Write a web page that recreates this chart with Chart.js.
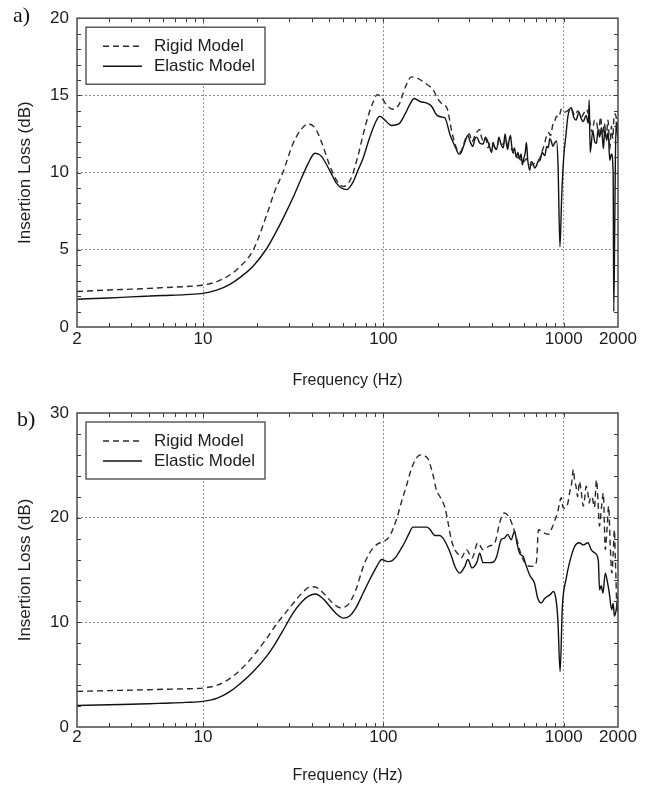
<!DOCTYPE html>
<html><head><meta charset="utf-8">
<script src="https://cdn.jsdelivr.net/npm/chart.js@4/dist/chart.umd.min.js"></script>
<style>
body{margin:0;background:#fff;width:650px;height:787px;position:relative;overflow:hidden}
canvas{position:absolute;left:0}
#c1{top:0}
#c2{top:390px}
.lab{position:absolute;font-family:"Liberation Serif","Times New Roman",serif;font-size:22px;line-height:22px;color:#111}
</style></head><body>
<canvas id="c1" width="650" height="390"></canvas>
<canvas id="c2" width="650" height="397"></canvas>
<div class="lab" style="left:13px;top:4px">a)</div>
<div class="lab" style="left:17px;top:408px">b)</div>
<script>
// ---------- data ----------
const xTicks = [2, 10, 100, 1000, 2000];
const seriesNames = ["Rigid Model", "Elastic Model"];
const xTitle = "Frequency (Hz)";
const yTitle = "Insertion Loss (dB)";

// panel a)
const aRigidF = [2,3,4,5,6,8,10,12,14,16,19,22.6,25,27.7,31.6,35,38.3,42,46,50.6,55,59.9,66,72,77,83,88,92.3,97,104,113,122,132,143,155,170,189,200,214,225,
  240,254,262,270,288,300,310,322,334,342,350,360,370,380,390,400,412,425,437,450,462,475,487,500,515,530,550,570,585,600,620,640,670,700,735,760,780,800,822,845,870,890,912,
  940,970,1000,1050,1100,1150,1200,1250,1300,1330,1370,1400,1440,1480,1520,1560,1600,1640,1680,1720,1760,1800,1840,1870,1900,1930,1960,2000];
const aRigidV = [2.3,2.4,2.45,2.5,2.55,2.62,2.72,2.95,3.35,3.9,5.0,7.3,8.8,10.0,11.9,12.8,13.15,12.85,11.8,10.4,9.5,9.1,9.6,11.0,12.4,13.8,14.6,15.05,14.9,14.4,14.1,14.4,15.5,16.2,16.1,15.8,15.35,14.8,14.4,14.2,
  12.6,11.6,11.3,11.4,12.3,12.5,12.0,12.4,12.7,12.8,12.3,12.0,12.2,11.6,11.9,12.0,11.7,11.6,12.1,12.0,11.8,12.2,11.8,11.6,11.5,11.2,11.0,10.9,10.7,10.7,10.9,10.6,10.5,10.7,10.9,11.4,11.8,12.3,12.6,12.4,13.1,13.3,13.65,
  13.6,14.1,13.9,14.0,14.2,13.7,14.0,13.6,13.9,14.1,13.8,13.2,12.6,13.4,13.3,12.5,13.6,12.4,13.2,12.3,13.4,11.5,13.0,12.2,13.6,13.8,13.5,12.8];
const aElasticF = [2,3,4,5,6,8,10,12,14,16,19,22.6,25,27.7,31.6,35,38.3,41.7,45,50.6,55,62.5,68,72,77,83,90,95.5,102,111,118,123,132,140,148,160,174,185,197,210,219,235,
  254,262,270,282,294,303,313,322,330,343,357,368,380,390,398,406,415,425,437,450,462,473,481,489,498,507,515,522,533,545,557,569,580,590,600,612,621,632,648,660,675,690,703,720,740,760,786,805,820,838,853,870,889,912,
  930,953,975,1000,1030,1055,1100,1135,1170,1215,1250,1284,1330,1370,1385,1402,1450,1485,1520,1550,1580,1620,1660,1690,1730,1765,1800,1840,1880,1895,1920,1950,1975,2000];
const aElasticV = [1.8,1.88,1.95,2.0,2.04,2.1,2.18,2.4,2.75,3.2,3.95,5.1,6.0,7.0,8.4,9.6,10.6,11.25,11.1,10.1,9.3,8.9,9.4,10.1,10.9,12.1,13.2,13.65,13.4,13.05,13.1,13.2,13.8,14.4,14.8,14.6,14.5,14.3,13.75,13.6,13.55,12.4,
  11.5,11.2,11.3,11.9,12.4,12.0,11.7,12.2,12.3,11.9,11.85,12.3,12.0,11.6,11.3,11.95,11.6,11.5,12.3,11.8,11.6,12.5,11.9,11.5,12.1,12.4,11.7,11.3,11.6,11.0,11.3,10.9,11.2,10.5,10.9,11.3,11.95,10.8,10.15,10.7,10.6,10.3,10.4,10.7,10.8,11.3,11.1,11.7,11.6,12.2,12.05,11.7,11.9,12.05,
  10.5,5.2,8.5,11.0,12.5,13.65,14.2,13.6,13.4,13.9,13.5,13.3,13.7,13.2,14.7,11.3,12.7,12.0,11.9,12.8,12.3,12.9,11.55,12.8,12.1,12.6,10.8,11.2,9.9,1.0,7.0,13.3,12.8,12.0];

// panel b)
const bRigidF = [2,3,4,5,6,8,10,12,14,16,19,22.6,25,27.7,31.6,35,39.5,43,47,52,57.4,63,70,77.3,83,87.7,93,99.6,108,118,126,134,142,149,156,163,170,177,189,197,206,219,228,238,250,260,270,289,310,334,357,388,415,441,455,469,485,500,534,569,595,621,671,706,725,750,786,822,860,889,928,950,970,990,1011,1055,1077,1105,1131,1150,1170,1195,1222,1250,1284,1310,1330,1360,1385,1410,1440,1480,1520,1550,1580,1620,1660,1680,1700,1740,1775,1810,1850,1880,1910,1930,1950,1975,2000];
const bRigidV = [3.4,3.48,3.52,3.56,3.6,3.65,3.72,4.0,4.6,5.4,6.8,8.5,9.6,10.6,11.8,12.7,13.4,13.3,12.7,11.9,11.4,11.6,13.0,15.3,16.5,17.1,17.5,17.7,18.2,19.8,21.5,23.0,24.5,25.4,25.9,26.0,25.9,25.6,24.0,22.6,22.0,21.0,19.6,17.9,16.9,16.5,16.15,16.95,16.15,17.6,16.95,17.3,17.6,19.5,20.2,20.45,20.3,20.0,18.7,16.95,16.0,15.5,15.35,15.8,18.85,18.7,18.5,18.4,19.0,19.65,20.6,21.5,21.9,21.0,20.9,21.4,22.35,23.2,24.6,23.5,23.0,22.0,23.45,22.5,21.1,22.0,23.0,22.4,21.4,22.0,21.9,21.0,23.6,21.5,19.2,21.0,22.35,19.5,16.95,19.0,21.1,17.5,14.7,16.5,18.85,16.5,14.0,11.0,12.5];
const bElasticF = [2,3,4,5,6,8,10,12,14,16,19,22.6,25,27.7,31.6,35,38.5,42,46,50,55,60,65,70,77.3,83,87.7,93,97.8,106,112,118,125,131,138,146,160,174,181,193,205,214,229,240,249,265,283,294,310,331,342,357,388,410,425,450,469,489,511,534,550,569,595,621,648,688,718,750,786,841,876,906,928,955,983,1030,1077,1150,1222,1284,1361,1425,1494,1556,1580,1615,1650,1700,1750,1790,1845,1880,1910,1950,1975,2000];
const bElasticV = [2.05,2.12,2.18,2.22,2.27,2.35,2.45,2.75,3.35,4.1,5.3,6.8,7.9,9.2,10.9,11.9,12.5,12.7,12.3,11.6,10.8,10.4,10.6,11.3,12.8,13.9,14.7,15.5,16.0,15.8,15.9,16.3,17.0,17.6,18.4,19.1,19.1,19.1,18.9,18.3,18.3,18.05,17.1,16.2,15.35,14.7,15.35,16.0,15.2,15.8,16.6,15.7,15.7,15.8,16.3,17.9,18.05,18.4,17.9,18.7,17.6,16.6,16.3,15.35,14.5,13.75,12.3,11.85,12.3,12.65,12.95,12.2,10.25,5.3,11.5,14.1,15.7,17.25,17.6,17.4,17.6,16.9,16.6,15.9,13.1,13.5,12.8,14.7,13.8,12.8,11.2,11.8,10.6,11.1,11.8,12.5];

// ---------- helpers ----------
const FONT = '"Liberation Sans", Arial, Helvetica, sans-serif';
const INK = '#1c1c1c';
const GRID = '#8c8c8c';
const pts = (f, v) => f.map((x, i) => ({x: x, y: v[i]}));

const framePlugin = {
  id: 'frameTicks',
  afterDatasetsDraw(chart, args, opts) {
    const {ctx, chartArea: a, scales} = chart;
    const xs = scales.x, ys = scales.y;
    ctx.save();
    ctx.strokeStyle = '#3a3a3a';
    ctx.lineWidth = 1;
    ctx.beginPath();
    for (let d = 1; d <= 1000; d *= 10) {
      for (let m = 1; m <= 9; m++) {
        const v = m * d;
        if (v <= xs.min || v >= xs.max) continue;
        const px = Math.round(xs.getPixelForValue(v)) + 0.5;
        ctx.moveTo(px, a.bottom); ctx.lineTo(px, a.bottom - 4);
        ctx.moveTo(px, a.top); ctx.lineTo(px, a.top + 4);
      }
    }
    for (let v = ys.min + opts.yMinor; v < ys.max; v += opts.yMinor) {
      const py = Math.round(ys.getPixelForValue(v)) + 0.5;
      ctx.moveTo(a.left, py); ctx.lineTo(a.left + 4, py);
      ctx.moveTo(a.right, py); ctx.lineTo(a.right - 4, py);
    }
    ctx.stroke();
    ctx.strokeStyle = '#4a4a4a';
    ctx.lineWidth = 1.5;
    ctx.strokeRect(a.left, a.top, a.right - a.left, a.bottom - a.top);
    const bx = a.left + 9, by = a.top + 9, bw = 179, bh = 57;
    ctx.fillStyle = '#fff';
    ctx.fillRect(bx, by, bw, bh);
    ctx.strokeStyle = '#444';
    ctx.lineWidth = 1.3;
    ctx.strokeRect(bx, by, bw, bh);
    chart.data.datasets.forEach((ds, i) => {
      const y = by + 19 + i * 20;
      ctx.strokeStyle = ds.borderColor;
      ctx.lineWidth = ds.borderWidth;
      ctx.setLineDash(ds.borderDash || []);
      ctx.beginPath();
      ctx.moveTo(bx + 17, y); ctx.lineTo(bx + 56, y);
      ctx.stroke();
      ctx.setLineDash([]);
      ctx.fillStyle = INK;
      ctx.font = '17px ' + FONT;
      ctx.textBaseline = 'middle';
      ctx.textAlign = 'left';
      ctx.fillText(ds.label, bx + 68, y);
    });
    ctx.restore();
  }
};

function makeChart(id, cfg) {
  const canvas = document.getElementById(id);
  const H = canvas.height;
  return new Chart(canvas, {
    type: 'line',
    data: {
      datasets: [
        {label: seriesNames[0], data: pts(cfg.rf, cfg.rv), borderColor: '#2a2a2a', borderWidth: 1.4, borderDash: [6, 4], pointRadius: 0, fill: false, cubicInterpolationMode: 'monotone'},
        {label: seriesNames[1], data: pts(cfg.ef, cfg.ev), borderColor: '#111', borderWidth: 1.4, pointRadius: 0, fill: false, cubicInterpolationMode: 'monotone'}
      ]
    },
    options: {
      responsive: false,
      animation: false,
      devicePixelRatio: 1,
      layout: {padding: {left: 0, right: 32, top: cfg.top, bottom: 0}},
      plugins: {legend: {display: false}, tooltip: {enabled: false}, frameTicks: {yMinor: cfg.yMinor}},
      scales: {
        x: {
          type: 'logarithmic', min: 2, max: 2000,
          afterBuildTicks: s => { s.ticks = xTicks.map(v => ({value: v})); },
          afterFit: s => { s.height = H - cfg.bottom; },
          ticks: {autoSkip: false, maxRotation: 0, padding: cfg.xPad, color: INK, font: {family: FONT, size: 17}, callback: v => String(v)},
          grid: {drawTicks: false, lineWidth: 1, color: c => (c.tick && c.tick.value > 2 && c.tick.value < 2000) ? GRID : 'rgba(0,0,0,0)'},
          border: {display: false, dash: [2, 2]},
          title: {display: true, text: xTitle, color: INK, font: {family: FONT, size: 16}, padding: {top: 0, bottom: cfg.titlePad}}
        },
        y: {
          type: 'linear', min: 0, max: cfg.ymax,
          afterFit: s => { s.width = 77; },
          ticks: {stepSize: cfg.yStep, padding: 8, color: INK, font: {family: FONT, size: 17}},
          grid: {drawTicks: false, lineWidth: 1, color: c => (c.tick && c.tick.value > 0 && c.tick.value < cfg.ymax) ? GRID : 'rgba(0,0,0,0)'},
          border: {display: false, dash: [2, 2]},
          title: {display: true, text: yTitle, color: INK, font: {family: FONT, size: 17}, padding: {top: 15, bottom: 0}}
        }
      }
    },
    plugins: [framePlugin]
  });
}

makeChart('c1', {rf: aRigidF, rv: aRigidV, ef: aElasticF, ev: aElasticV, ymax: 20, yStep: 5, yMinor: 1, top: 14, bottom: 327, xPad: 2, titlePad: 0});
makeChart('c2', {rf: bRigidF, rv: bRigidV, ef: bElasticF, ev: bElasticV, ymax: 30, yStep: 10, yMinor: 2, top: 23, bottom: 337, xPad: 0, titlePad: 2});
</script>
</body></html>
